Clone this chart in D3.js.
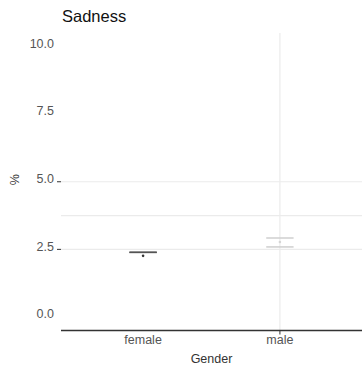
<!DOCTYPE html>
<html lang="en">
<head>
<meta charset="UTF-8">
<title>Sadness</title>
<script src="https://d3js.org/d3.v7.min.js"></script>
<style>
    body { margin: 0; background: #fff; }
    text { font-family: "Liberation Sans", Arial, sans-serif; }
    .tick-label { font-size: 12.5px; fill: #555; }
    .axis-title { font-size: 12.5px; fill: #333; }
</style>
</head>
<body>
<div id="chart"></div>
<script>
    // data
    const categories = ["female", "male"];
    const means = [2.26, 2.77];
    const lower = [2.39, 2.59];
    const upper = [2.39, 2.92];
    const barColors = ["#555555", "#cfcfcf"];
    const yTicks = [0, 2.5, 5, 7.5, 10];
    const gridValues = [2.5, 3.75, 5];   // only these grid lines show
    const tickMarkValues = [2.5, 5];

    const width = 362, height = 367;
    const padL = 61, padR = 362, padT = 33, padB = 330.5;

    const svg = d3.select("#chart").append("svg")
        .attr("width", width)
        .attr("height", height);

    // discrete x axis with ggplot-like expansion (0.6 each side)
    const x = d3.scaleLinear().domain([0.4, 2.6]).range([padL, padR]);
    const y = d3.scaleLinear().domain([-0.5, 10.5]).range([padB, padT]);

    // grid lines
    svg.append("g").selectAll("line")
        .data(gridValues)
        .enter().append("line")
        .attr("x1", padL).attr("x2", padR)
        .attr("y1", d => y(d)).attr("y2", d => y(d))
        .attr("stroke", "#ebebeb").attr("stroke-width", 1.2);

    svg.append("line")
        .attr("x1", x(2)).attr("x2", x(2))
        .attr("y1", padT).attr("y2", padB)
        .attr("stroke", "#ebebeb").attr("stroke-width", 1.2);

    // error bars
    const w = 0.1;
    const eb = svg.append("g").selectAll("g")
        .data(categories)
        .enter().append("g");

    eb.append("line")
        .attr("x1", (d, i) => x(i + 1 - w)).attr("x2", (d, i) => x(i + 1 + w))
        .attr("y1", (d, i) => y(upper[i])).attr("y2", (d, i) => y(upper[i]))
        .attr("stroke", (d, i) => barColors[i]).attr("stroke-width", 1.5);
    eb.append("line")
        .attr("x1", (d, i) => x(i + 1 - w)).attr("x2", (d, i) => x(i + 1 + w))
        .attr("y1", (d, i) => y(lower[i])).attr("y2", (d, i) => y(lower[i]))
        .attr("stroke", (d, i) => barColors[i]).attr("stroke-width", 1.5);

    // mean points
    svg.append("g").selectAll("circle")
        .data(means)
        .enter().append("circle")
        .attr("cx", (d, i) => x(i + 1))
        .attr("cy", d => y(d))
        .attr("r", 1.3)
        .attr("fill", (d, i) => i === 0 ? "#333" : "#d5d5d5");

    // x axis line
    svg.append("line")
        .attr("x1", padL).attr("x2", padR)
        .attr("y1", padB).attr("y2", padB)
        .attr("stroke", "#333").attr("stroke-width", 1.6);

    svg.append("line")
        .attr("x1", x(2)).attr("x2", x(2))
        .attr("y1", padB).attr("y2", padB + 4)
        .attr("stroke", "#333").attr("stroke-width", 1);

    // y tick labels and the few tick marks
    svg.append("g").selectAll("text")
        .data(yTicks)
        .enter().append("text")
        .attr("class", "tick-label")
        .attr("x", 54)
        .attr("y", d => y(d) - 2)
        .attr("text-anchor", "end")
        .attr("dominant-baseline", "middle")
        .text(d => d3.format(".1f")(d));

    svg.append("g").selectAll("line")
        .data(tickMarkValues)
        .enter().append("line")
        .attr("x1", 57).attr("x2", 61)
        .attr("y1", d => y(d)).attr("y2", d => y(d))
        .attr("stroke", "#333").attr("stroke-width", 1);

    // x tick labels
    svg.append("g").selectAll("text")
        .data(categories)
        .enter().append("text")
        .attr("class", "tick-label")
        .attr("x", (d, i) => x(i + 1))
        .attr("y", 344)
        .attr("text-anchor", "middle")
        .text(d => d);

    // titles
    svg.append("text")
        .attr("class", "axis-title")
        .attr("x", (padL + padR) / 2)
        .attr("y", 363)
        .attr("text-anchor", "middle")
        .text("Gender");

    svg.append("text")
        .attr("class", "axis-title")
        .attr("transform", `translate(19,${y(5) - 2}) rotate(-90)`)
        .attr("text-anchor", "middle")
        .text("%");

    svg.append("text")
        .attr("x", 62)
        .attr("y", 22)
        .attr("font-size", 16.5)
        .attr("fill", "#111")
        .text("Sadness");
</script>
</body>
</html>
